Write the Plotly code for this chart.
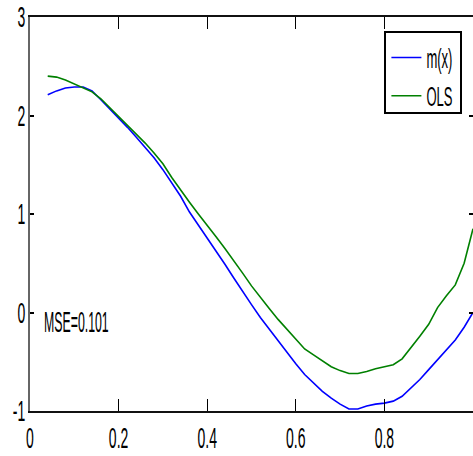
import plotly.graph_objects as go

x_vals = [0.04, 0.06, 0.08, 0.10, 0.12, 0.14, 0.16, 0.18, 0.20, 0.22, 0.24, 0.26, 0.28, 0.30,
          0.32, 0.34, 0.36, 0.38, 0.40, 0.42, 0.44, 0.46, 0.48, 0.50, 0.52, 0.54, 0.56, 0.58,
          0.60, 0.62, 0.64, 0.66, 0.68, 0.70, 0.72, 0.74, 0.76, 0.78, 0.80, 0.82, 0.84, 0.86,
          0.88, 0.90, 0.92, 0.94, 0.96, 0.98, 1.00]

m_x = [2.21, 2.25, 2.28, 2.29, 2.29, 2.25, 2.16, 2.07, 1.97, 1.88, 1.78, 1.68, 1.57, 1.45,
       1.32, 1.18, 1.02, 0.89, 0.76, 0.62, 0.49, 0.35, 0.21, 0.08, -0.05, -0.17, -0.29, -0.41,
       -0.52, -0.63, -0.72, -0.80, -0.87, -0.93, -0.98, -0.98, -0.95, -0.93, -0.92, -0.90, -0.85, -0.77,
       -0.68, -0.58, -0.48, -0.38, -0.28, -0.15, 0.00]

ols = [2.40, 2.39, 2.36, 2.32, 2.28, 2.24, 2.17, 2.08, 1.99, 1.90, 1.82, 1.72, 1.62, 1.51,
       1.37, 1.24, 1.12, 1.00, 0.89, 0.77, 0.65, 0.53, 0.40, 0.27, 0.15, 0.04, -0.07, -0.17,
       -0.27, -0.37, -0.43, -0.49, -0.55, -0.59, -0.62, -0.62, -0.60, -0.57, -0.55, -0.53, -0.47, -0.36,
       -0.24, -0.12, 0.05, 0.17, 0.28, 0.50, 0.85]

x_ticks = [0, 0.2, 0.4, 0.6, 0.8, 1]
x_tick_text = ["0", "0.2", "0.4", "0.6", "0.8", "1"]
y_ticks = [-1, 0, 1, 2, 3]
y_tick_text = ["-1", "0", "1", "2", "3"]

mse_label = "MSE=0.101"

FONT = "Liberation Sans, Arial, Helvetica, sans-serif"

fig = go.Figure()
fig.add_trace(go.Scatter(x=x_vals, y=m_x, mode="lines", name="m(x)", legendgroup="a",
                         line=dict(color="#0000ff", width=1.6)))
fig.add_trace(go.Scatter(x=x_vals, y=ols, mode="lines", name="OLS", legendgroup="b",
                         line=dict(color="#008000", width=1.6)))

fig.add_annotation(x=0.027, y=-0.1, xref="x", yref="y", text=mse_label, showarrow=False,
                   xanchor="left", yanchor="middle",
                   font=dict(family=FONT, size=14, color="#000"))

fig.update_layout(
    width=473, height=456,
    margin=dict(l=30, r=0, t=17, b=45, autoexpand=False),
    paper_bgcolor="white", plot_bgcolor="white",
    font=dict(family=FONT, size=14, color="#000"),
    showlegend=True,
    hovermode=False,
    legend=dict(x=0.80, y=0.965, xanchor="left", yanchor="top",
                bgcolor="white", bordercolor="#000", borderwidth=2,
                font=dict(family=FONT, size=14, color="#000"),
                title=dict(text="&nbsp;", font=dict(size=7)),
                tracegroupgap=17, traceorder="grouped",
                itemwidth=30),
    xaxis=dict(range=[0, 1], tickvals=x_ticks, ticktext=x_tick_text,
               ticks="inside", ticklen=12, tickcolor="#000", tickwidth=1,
               showline=True, linecolor="#111", linewidth=2, mirror="ticks",
               showgrid=False, zeroline=False, automargin=False,
               ticklabelstandoff=13),
    yaxis=dict(range=[-1, 3], tickvals=y_ticks, ticktext=y_tick_text,
               ticks="inside", ticklen=4, tickcolor="#000", tickwidth=2,
               showline=True, linecolor="#666", linewidth=2, mirror="ticks",
               showgrid=False, zeroline=False, automargin=False),
)

post = """
document.body.style.margin = '0';
document.body.style.overflow = 'hidden';
var gd = document.getElementById('{plot_id}');
function stretch(sel, sx, sy, anchor) {
  gd.querySelectorAll(sel).forEach(function(t) {
    var bb = t.getBBox();
    var cx = anchor === 'left' ? bb.x : (anchor === 'right' ? bb.x + bb.width : bb.x + bb.width / 2);
    var cy = bb.y + bb.height / 2;
    var tr = t.getAttribute('transform') || '';
    t.setAttribute('transform', tr + ' translate(' + cx + ',' + cy + ') scale(' + sx + ',' + sy + ') translate(' + (-cx) + ',' + (-cy) + ')');
  });
}
stretch('g.xtick text', 1.0, 2.1, 'center');
stretch('g.ytick text', 1.0, 2.1, 'right');
stretch('text.legendtext', 0.93, 2.0, 'left');
stretch('text.annotation-text', 0.88, 2.1, 'left');
"""

fig.write_html("out.html", post_script=post,
               config={"displayModeBar": False, "staticPlot": True})
